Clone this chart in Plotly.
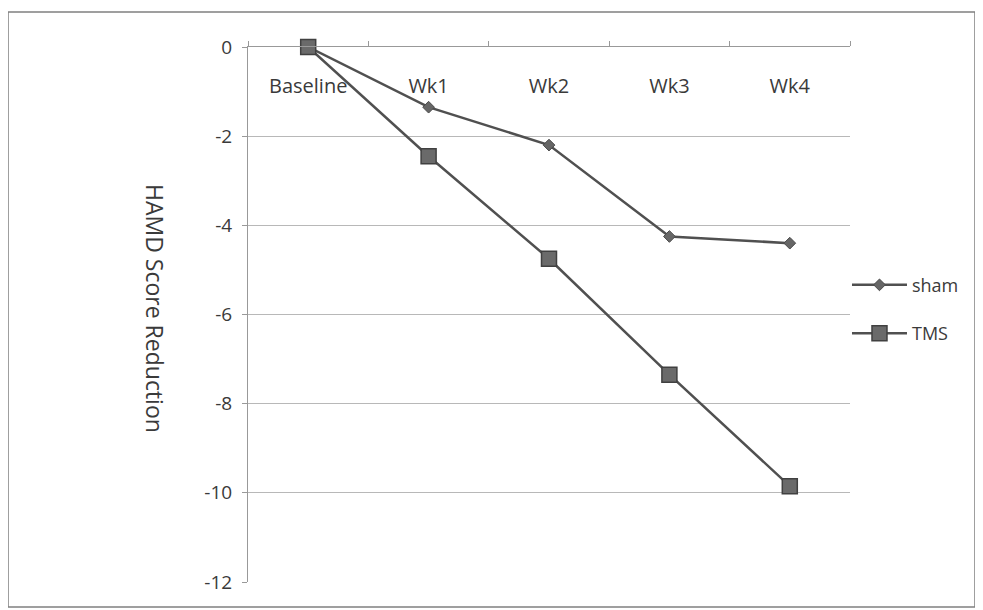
import plotly.graph_objects as go

categories = ["Baseline", "Wk1", "Wk2", "Wk3", "Wk4"]
sham = [0, -1.35, -2.2, -4.25, -4.4]
tms = [0, -2.45, -4.75, -7.35, -9.85]
y_ticks = [0, -2, -4, -6, -8, -10, -12]
y_labels = [str(v) if v == 0 else "-" + str(-v) for v in y_ticks]

FONT = "'Open Sans', Lato, sans-serif"
LINE = "#505050"
TXT = "#3a3a3a"

# page offset (body margin) compensation: figure starts at (8, 8)
W, H = 975, 602
L, T, R, B = 240, 39, 133, 28
PW, PH = W - L - R, H - T - B

fig = go.Figure()
fig.add_trace(go.Scatter(
    x=categories, y=sham, name="sham", mode="lines+markers", cliponaxis=False,
    legendgroup="sham",
    line=dict(color=LINE, width=2.5),
    marker=dict(symbol="diamond", size=9, color="#666666", line=dict(color="#4a4a4a", width=1)),
))
fig.add_trace(go.Scatter(
    x=categories, y=tms, name="TMS", mode="lines+markers", cliponaxis=False,
    legendgroup="tms",
    line=dict(color=LINE, width=2.5),
    marker=dict(symbol="square", size=15, color="#6a6a6a", line=dict(color="#404040", width=1.5)),
))
# invisible helper trace carrying the category labels on the label axis
fig.add_trace(go.Scatter(x=categories, y=[y_ticks[0]] * len(categories), xaxis="x2",
                         mode="markers", marker=dict(opacity=0),
                         showlegend=False, hoverinfo="skip"))

fig.update_layout(
    width=W, height=H,
    margin=dict(l=L, r=R, t=T, b=B),
    paper_bgcolor="white", plot_bgcolor="white",
    font=dict(family=FONT, size=19, color=TXT),
    showlegend=True,
    legend=dict(x=0.995, y=0.51, xanchor="left", yanchor="middle",
                bgcolor="rgba(0,0,0,0)", font=dict(size=18, color=TXT),
                traceorder="grouped", tracegroupgap=22, itemwidth=55),
    xaxis=dict(
        type="category", side="top", showticklabels=False,
        showgrid=False, showline=True, linecolor="#999999", linewidth=1,
        ticks="outside", ticklen=5, tickcolor="#999999", tickson="boundaries",
        range=[-0.5, 4.5], zeroline=False,
    ),
    xaxis2=dict(
        type="category", overlaying="x", anchor="free", position=0.953, side="bottom",
        range=[-0.5, 4.5], showgrid=False, showline=False, zeroline=False, ticks="",
        tickfont=dict(size=20),
    ),
    yaxis=dict(
        range=[-12, 0], tickvals=y_ticks, ticktext=y_labels,
        showgrid=True, gridcolor="#b8b8b8", gridwidth=1,
        showline=True, linecolor="#999999", linewidth=1,
        ticks="outside", ticklen=5, tickcolor="#999999",
        zeroline=False, ticklabelstandoff=6,
    ),
    annotations=[dict(
        text="HAMD Score Reduction", textangle=90,
        xref="paper", yref="paper", x=(155 - 8 - L) / PW, y=(574 - 300) / PH,
        xanchor="center", yanchor="middle", showarrow=False,
        font=dict(size=23, color=TXT, family=FONT),
    )],
    shapes=[dict(
        type="rect", xref="paper", yref="paper",
        x0=(0 - L) / PW, x1=(967 - L) / PW,
        y0=(T + PH - 599) / PH, y1=(T + PH - 4) / PH,
        line=dict(color="#808080", width=1.5), fillcolor="rgba(0,0,0,0)",
        layer="below",
    )],
)

fig.write_html("out.html")
